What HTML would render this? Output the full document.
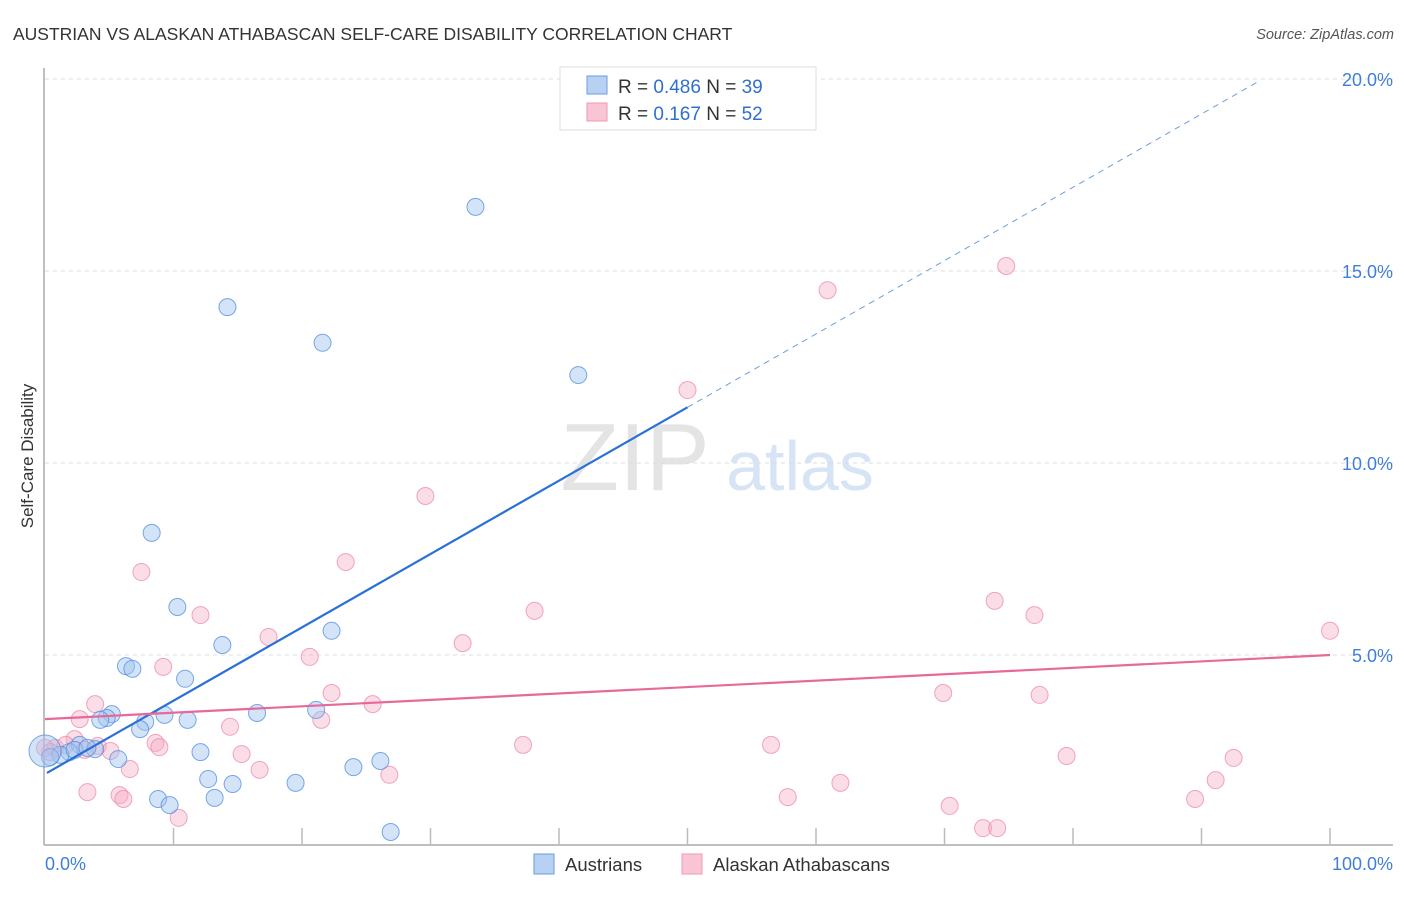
<!DOCTYPE html>
<html><head><meta charset="utf-8"><style>
body{margin:0;background:#fff;font-family:"Liberation Sans",sans-serif;}
svg text{font-family:"Liberation Sans",sans-serif;}
</style></head><body>
<svg id="c" width="1406" height="892" xmlns="http://www.w3.org/2000/svg">
<text x="13" y="40" font-size="17.5" fill="#333">AUSTRIAN VS ALASKAN ATHABASCAN SELF-CARE DISABILITY CORRELATION CHART</text>
<text x="1394" y="39" font-size="14.5" font-style="italic" fill="#555" text-anchor="end">Source: ZipAtlas.com</text>
<text transform="translate(33,456) rotate(-90)" font-size="17" fill="#333" text-anchor="middle">Self-Care Disability</text>
<text x="635" y="490" font-size="96" fill="#e4e4e4" font-family="Liberation Serif" text-anchor="middle">ZIP</text>
<text x="800" y="490" font-size="70" fill="#d6e4f5" text-anchor="middle">atlas</text>
<g id="grid"></g><g id="axes"></g><g id="pts"></g><g id="lines"></g>
<g>
<rect x="560" y="67" width="256" height="63" fill="#fff" stroke="#ddd"/>
<rect x="587" y="76" width="20" height="18" fill="#b8d0f2" stroke="#6a9be0"/>
<rect x="587" y="103" width="20" height="18" fill="#f9c4d3" stroke="#ee9ab2"/>
<text x="618" y="93" font-size="19" fill="#333">R = <tspan fill="#2f6fd0">0.486</tspan>   N = <tspan fill="#2f6fd0">39</tspan></text>
<text x="618" y="120" font-size="19" fill="#333">R =  <tspan fill="#2f6fd0">0.167</tspan>   N = <tspan fill="#2f6fd0">52</tspan></text>
</g>
<g>
<rect x="534" y="854" width="20" height="20" fill="#b8d0f2" stroke="#6a9be0"/>
<text x="565" y="871" font-size="18.5" fill="#333">Austrians</text>
<rect x="682" y="854" width="20" height="20" fill="#f9c4d3" stroke="#ee9ab2"/>
<text x="713" y="871" font-size="18.5" fill="#333">Alaskan Athabascans</text>
</g>
</svg>
<script>
const blueX=[33.5,14.2,21.6,41.5,8.3,10.3,22.3,13.8,6.3,6.8,10.9,5.2,4.8,4.3,9.3,16.5,21.1,7.8,7.4,11.1,12.1,5.7,12.7,14.6,19.5,13.2,8.8,9.7,24.0,26.1,26.9,2.7,3.9,1.9,1.2,0.4,2.3,0,3.3];
const blueY=[16.67,14.06,13.13,12.29,8.18,6.25,5.63,5.26,4.71,4.64,4.38,3.46,3.36,3.31,3.44,3.49,3.57,3.26,3.07,3.31,2.47,2.29,1.77,1.64,1.67,1.28,1.25,1.09,2.08,2.24,0.39,2.66,2.55,2.47,2.40,2.34,2.53,2.5,2.58];
const pinkX=[74.8,60.9,50.0,29.6,23.4,7.5,38.1,73.9,77.0,100,12.1,17.4,32.5,20.6,9.2,22.3,69.9,77.4,3.9,25.5,2.7,21.5,14.4,2.3,8.6,8.9,37.2,56.5,4.1,5.1,15.3,79.5,92.5,6.6,16.7,26.8,91.1,61.9,3.3,5.8,6.1,57.8,89.5,70.4,10.4,73.0,74.1,0.8,1.6,0.4,3.1,0];
const pinkY=[15.13,14.5,11.9,9.14,7.42,7.16,6.15,6.41,6.04,5.63,6.04,5.47,5.31,4.95,4.69,4.01,4.01,3.96,3.72,3.72,3.33,3.31,3.13,2.81,2.71,2.60,2.66,2.66,2.63,2.50,2.42,2.37,2.32,2.03,2.01,1.88,1.74,1.67,1.43,1.35,1.25,1.30,1.25,1.07,0.76,0.49,0.49,2.58,2.66,2.47,2.53,2.58];
const yTicks=[5,10,15,20];
const yTickLabels=["5.0%","10.0%","15.0%","20.0%"];
const xTickLabels=["0.0%","100.0%"];
const blueTrend=[1.9,0.191];
const pinkTrend=[3.33,0.0167];
const NS="http://www.w3.org/2000/svg";
const sx=v=>45+v*12.85, sy=v=>847-v*38.4;
function mk(t,a,p){const e=document.createElementNS(NS,t);for(const k in a)e.setAttribute(k,a[k]);p.appendChild(e);return e;}
const grid=document.getElementById('grid'),axes=document.getElementById('axes'),pts=document.getElementById('pts'),lines=document.getElementById('lines');
yTicks.forEach((t,i)=>{
 const l=mk('line',{x1:45,x2:1393,y1:sy(t),y2:sy(t),stroke:'#ddd','stroke-dasharray':'4,4'},grid);
 
 
 const tx=mk('text',{x:1393,y:sy(t)+7,'font-size':18,fill:'#3f7fd6','text-anchor':'end'},grid);
 tx.textContent=yTickLabels[i];
 
 
});
const ya=mk('line',{x1:44,x2:44,y1:68,y2:845,stroke:'#aaa','stroke-width':1.5},axes);


const xa=mk('line',{x1:44,x2:1393,y1:845,y2:845,stroke:'#aaa','stroke-width':1.5},axes);


for(let i=1;i<=10;i++){
 const t=mk('line',{x1:sx(i*10),x2:sx(i*10),y1:828,y2:845,stroke:'#bbb','stroke-width':1.5},axes);
 
 
}
const xl0=mk('text',{x:45,y:870,'font-size':18,fill:'#3f7fd6'},axes);xl0.textContent=xTickLabels[0];


const xl1=mk('text',{x:1393,y:870,'font-size':18,fill:'#3f7fd6','text-anchor':'end'},axes);xl1.textContent=xTickLabels[1];


pinkX.forEach((x,i)=>{
 const c=mk('circle',{cx:sx(x),cy:sy(pinkY[i]),r:8.5,fill:'rgba(246,170,195,0.4)',stroke:'rgba(236,130,165,0.7)','stroke-width':1},pts);
 
 
});
blueX.forEach((x,i)=>{
 const c=mk('circle',{cx:sx(x),cy:sy(blueY[i]),r:x===0?16:8.5,fill:'rgba(160,195,240,0.45)',stroke:'rgba(80,140,220,0.75)','stroke-width':1},pts);
 
 
});
const f=(tr,x)=>tr[0]+tr[1]*x;
const b1=mk('line',{x1:sx(0.15),y1:sy(f(blueTrend,0.15)),x2:sx(50),y2:sy(f(blueTrend,50)),stroke:'#2a70d6','stroke-width':2.2},lines);


const b2=mk('line',{x1:sx(50),y1:sy(f(blueTrend,50)),x2:sx(94.4),y2:sy(f(blueTrend,94.4)),stroke:'#6d9ee0','stroke-width':1,'stroke-dasharray':'6,5'},lines);


const p1=mk('line',{x1:sx(0),y1:sy(f(pinkTrend,0)),x2:sx(100),y2:sy(f(pinkTrend,100)),stroke:'#e8689a','stroke-width':2.2},lines);


</script>
</body></html>
